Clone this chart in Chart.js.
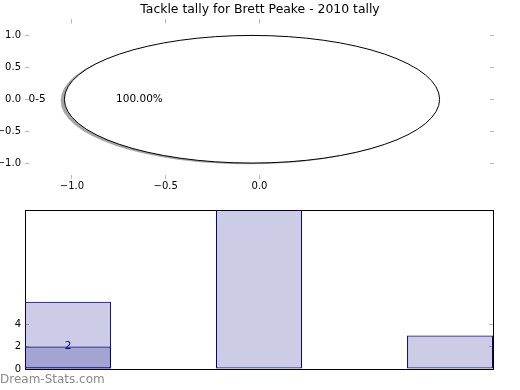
<!DOCTYPE html>
<html>
<head>
<meta charset="utf-8">
<title>Tackle tally for Brett Peake - 2010 tally</title>
<script src="https://cdn.jsdelivr.net/npm/chart.js@4.4.1/dist/chart.umd.min.js"></script>
<style>
  html, body { margin: 0; padding: 0; background: #fff; }
  #wrap { position: relative; width: 520px; height: 390px; overflow: hidden; }
  .box { position: absolute; left: 0; width: 520px; height: 195px; }
  #pieBox { top: 0; }
  #barBox { top: 195px; }
  #credit { position: absolute; left: 0; top: 372px; font: 12px 'DejaVu Sans', sans-serif; color: #8a8a8a; }
</style>
</head>
<body>
<div id="wrap">
  <div class="box" id="pieBox"><canvas id="pieChart"></canvas></div>
  <div class="box" id="barBox"><canvas id="barChart"></canvas></div>
  <div id="credit">Dream-Stats.com</div>
</div>
<script>
// data
const chartTitle = 'Tackle tally for Brett Peake - 2010 tally';
const pieLabels = ['0-5'];
const pieValues = [2];
const pieXTicks = [-1.0, -0.5, 0.0];
const pieYTicks = [-1.0, -0.5, 0.0, 0.5, 1.0];

const barCategories = ['Group 1', 'Group 2', 'Group 3'];
const totalValues = [6, 15, 3];
const highlightValues = [2, null, null];
const barYTicks = [0, 2, 4];

Chart.defaults.font.family = "'DejaVu Sans', sans-serif";
Chart.defaults.font.size = 10;
Chart.defaults.color = '#000';

const tickGray = '#b8b8b8';
const navy = '#000080';
const fmt1 = v => v.toFixed(1).replace('-', '\u2212');
const setTicks = list => scale => { scale.ticks = list.map(v => ({ value: v })); };
const fixWidth = w => scale => { scale.width = w; };
const fixHeight = h => scale => { scale.height = h; };

// matplotlib-like pie drawn on the data axes (so it stretches into an ellipse)
const ellipsePie = {
    id: 'ellipsePie',
    afterDatasetsDraw(chart, args, opts) {
        const { ctx, scales: { x, y } } = chart;
        const total = pieValues.reduce((a, b) => a + b, 0);
        const rx = x.getPixelForValue(1) - x.getPixelForValue(0);
        const ry = y.getPixelForValue(0) - y.getPixelForValue(1);
        let start = 0;
        const slices = pieValues.map((v, i) => {
            const frac = v / total;
            const a1 = start, a2 = start + frac * 2 * Math.PI;
            start = a2;
            const mid = (a1 + a2) / 2;
            return { i, frac, a1, a2, mid,
                cx: opts.explode * Math.cos(mid), cy: opts.explode * Math.sin(mid) };
        });
        const path = (s, dx, dy) => {
            const px = x.getPixelForValue(s.cx + dx), py = y.getPixelForValue(s.cy + dy);
            ctx.beginPath();
            if (s.frac >= 0.9999) {
                ctx.ellipse(px, py, rx, ry, 0, 0, 2 * Math.PI);
            } else {
                ctx.moveTo(px, py);
                ctx.ellipse(px, py, rx, ry, 0, -s.a1, -s.a2, true);
                ctx.closePath();
            }
        };
        ctx.save();
        // shadow
        slices.forEach(s => {
            path(s, -0.02, -0.02);
            ctx.fillStyle = 'rgba(77,77,77,0.5)';
            ctx.fill();
        });
        slices.forEach(s => {
            path(s, 0, 0);
            ctx.fillStyle = '#fff';
            ctx.fill();
            ctx.lineWidth = 1;
            ctx.strokeStyle = '#000';
            ctx.stroke();
        });
        // labels
        ctx.fillStyle = '#000';
        ctx.font = "10.5px 'DejaVu Sans', sans-serif";
        ctx.textBaseline = 'middle';
        slices.forEach(s => {
            const c = Math.cos(s.mid), sn = Math.sin(s.mid);
            ctx.textAlign = c < 0 ? 'right' : 'left';
            ctx.fillText(pieLabels[s.i], x.getPixelForValue(s.cx + 1.1 * c), y.getPixelForValue(s.cy + 1.1 * sn));
            ctx.textAlign = 'center';
            ctx.fillText((s.frac * 100).toFixed(2) + '%', x.getPixelForValue(s.cx + 0.6 * c), y.getPixelForValue(s.cy + 0.6 * sn));
        });
        ctx.restore();
    }
};

const pieGrid = { drawOnChartArea: false, drawTicks: true, tickLength: -4, color: tickGray };

new Chart(document.getElementById('pieChart'), {
    type: 'scatter',
    data: { datasets: [{ data: [] }] },
    plugins: [ellipsePie],
    options: {
        responsive: true,
        maintainAspectRatio: false,
        animation: false,
        events: [],
        layout: { padding: 0 },
        plugins: {
            legend: { display: false },
            tooltip: { enabled: false },
            title: {
                display: true,
                text: chartTitle,
                color: '#000',
                font: { size: 12.4, weight: 'normal' },
                padding: { top: 2.6, bottom: 0 }
            },
            ellipsePie: { explode: 0.04 }
        },
        scales: {
            x: {
                type: 'linear', position: 'bottom', min: -1.25, max: 1.25,
                afterBuildTicks: setTicks(pieXTicks),
                afterFit: fixHeight(16),
                ticks: { callback: fmt1, padding: 5, autoSkip: false, maxRotation: 0 },
                grid: pieGrid,
                border: { display: false }
            },
            xTop: {
                type: 'linear', position: 'top', min: -1.25, max: 1.25,
                afterBuildTicks: setTicks(pieXTicks),
                afterFit: fixHeight(2),
                ticks: { display: false },
                grid: pieGrid,
                border: { display: false }
            },
            y: {
                type: 'linear', position: 'left', min: -1.25, max: 1.25,
                afterBuildTicks: setTicks(pieYTicks),
                afterFit: fixWidth(25),
                ticks: { callback: fmt1, padding: 8, autoSkip: false },
                grid: pieGrid,
                border: { display: false }
            },
            yRight: {
                type: 'linear', position: 'right', min: -1.25, max: 1.25,
                afterBuildTicks: setTicks(pieYTicks),
                afterFit: fixWidth(26),
                ticks: { display: false },
                grid: pieGrid,
                border: { display: false }
            }
        }
    }
});

// bar chart below: bars start at each category index, 0.45 wide
const barWidth = 0.45;
const toPoints = vals => vals.map((v, i) => ({ x: i + barWidth / 2, y: v }));

const barLabelPlugin = {
    id: 'barLabel',
    afterDatasetsDraw(chart) {
        const { ctx } = chart;
        const meta = chart.getDatasetMeta(0);
        ctx.save();
        ctx.fillStyle = navy;
        ctx.font = "10.5px 'DejaVu Sans', sans-serif";
        ctx.textAlign = 'center';
        ctx.textBaseline = 'middle';
        meta.data.forEach((bar, i) => {
            if (highlightValues[i] == null) return;
            ctx.fillText(String(highlightValues[i]), bar.x, bar.y);
        });
        ctx.restore();
    }
};

const barGrid = { drawOnChartArea: false, drawTicks: true, tickLength: -4, color: tickGray };
const spine = { display: true, color: '#000', width: 1 };

new Chart(document.getElementById('barChart'), {
    type: 'bar',
    data: {
        labels: barCategories,
        datasets: [{
            label: 'Highlight',
            data: toPoints(highlightValues),
            backgroundColor: 'rgba(0,0,128,0.2)',
            borderColor: navy,
            borderWidth: 1,
            borderSkipped: false,
            grouped: false,
            categoryPercentage: 1,
            barPercentage: barWidth
        }, {
            label: 'Tackles',
            data: toPoints(totalValues),
            backgroundColor: 'rgba(0,0,128,0.2)',
            borderColor: navy,
            borderWidth: 1,
            borderSkipped: false,
            grouped: false,
            categoryPercentage: 1,
            barPercentage: barWidth
        }]
    },
    plugins: [barLabelPlugin],
    options: {
        responsive: true,
        maintainAspectRatio: false,
        animation: false,
        events: [],
        layout: { padding: { left: 0, right: 0, top: 15, bottom: 0 } },
        plugins: { legend: { display: false }, tooltip: { enabled: false } },
        scales: {
            x: {
                type: 'linear', position: 'bottom', offset: false,
                min: 0, max: barCategories.length - 1 + barWidth,
                afterBuildTicks: scale => { scale.ticks = barCategories.map((c, i) => ({ value: i })); },
                afterFit: fixHeight(21),
                ticks: { display: false },
                grid: { display: false, offset: false },
                border: spine
            },
            xTop: {
                type: 'linear', position: 'top', offset: false,
                min: 0, max: barCategories.length - 1 + barWidth,
                afterBuildTicks: scale => { scale.ticks = barCategories.map((c, i) => ({ value: i })); },
                afterFit: fixHeight(0),
                ticks: { display: false },
                grid: { display: false, offset: false },
                border: spine
            },
            y: {
                type: 'linear', position: 'left', min: 0, max: 14.2,
                afterBuildTicks: setTicks(barYTicks),
                afterFit: fixWidth(25),
                ticks: { padding: 8, autoSkip: false },
                grid: barGrid,
                border: spine
            },
            yRight: {
                type: 'linear', position: 'right', min: 0, max: 14.2,
                afterBuildTicks: setTicks(barYTicks),
                afterFit: fixWidth(27),
                ticks: { display: false },
                grid: barGrid,
                border: spine
            }
        }
    }
});
</script>
</body>
</html>
